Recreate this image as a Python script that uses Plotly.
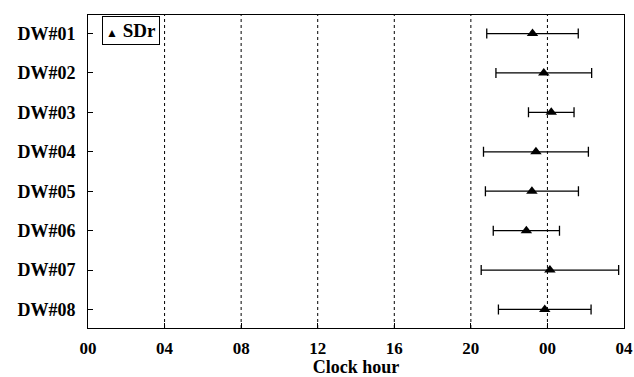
import plotly.graph_objects as go

subjects = ["DW#01", "DW#02", "DW#03", "DW#04", "DW#05", "DW#06", "DW#07", "DW#08"]
sdr_mean = [23.22, 23.81, 24.20, 23.40, 23.19, 22.90, 24.13, 23.86]
sdr_sd = [2.39, 2.50, 1.19, 2.74, 2.43, 1.73, 3.59, 2.42]
tick_vals = [0, 4, 8, 12, 16, 20, 24, 28]
tick_text = ["00", "04", "08", "12", "16", "20", "00", "04"]
grid_vals = [4, 8, 12, 16, 20, 24]
series_name = "SDr"

FONT = "Liberation Serif, Times New Roman, serif"
ypos = list(range(1, len(subjects) + 1))

fig = go.Figure()
fig.add_trace(go.Scatter(
    x=sdr_mean, y=ypos, mode="markers", name=series_name,
    marker=dict(symbol="triangle-up", size=10, color="black"),
    error_x=dict(type="data", array=sdr_sd, visible=True, color="black",
                 thickness=1.3, width=5),
))

for g in grid_vals:
    fig.add_vline(x=g, line=dict(color="black", width=1, dash="dot"), layer="below")

fig.add_annotation(
    xref="paper", yref="paper", x=0.027, y=0.996, xanchor="left", yanchor="top",
    text="<span style='font-size:12px'>▲</span> <b>" + series_name + "</b>",
    showarrow=False, bordercolor="black", borderwidth=1, borderpad=3, bgcolor="white",
    font=dict(family=FONT, size=19, color="black"),
)

fig.update_layout(
    width=634, height=377,
    margin=dict(l=88, r=10, t=15, b=49, autoexpand=False),
    plot_bgcolor="white", paper_bgcolor="white",
    font=dict(family=FONT, size=15, color="black"),
    showlegend=False,
    xaxis=dict(range=[0, 28], tickmode="array", tickvals=tick_vals, ticktext=tick_text,
               automargin=False,
               showgrid=False, zeroline=False, showline=True, linecolor="black",
               linewidth=1, mirror=True, ticks="inside", ticklen=5, tickcolor="black",
               ticklabeloverflow="allow", ticklabelstandoff=5,
               tickfont=dict(family=FONT, size=17, color="black", weight="bold"),
               title=dict(text="Clock hour", standoff=2,
                          font=dict(family=FONT, size=18, color="black", weight="bold"))),
    yaxis=dict(range=[8.47, 0.53], tickmode="array", tickvals=ypos, ticktext=subjects,
               automargin=False,
               showgrid=False, zeroline=False, showline=True, linecolor="black",
               linewidth=1, mirror=True, ticks="inside", ticklen=5, tickcolor="black",
               ticklabelstandoff=8,
               tickfont=dict(family=FONT, size=18, color="black", weight="bold")),
)

fig.write_html("out.html")
